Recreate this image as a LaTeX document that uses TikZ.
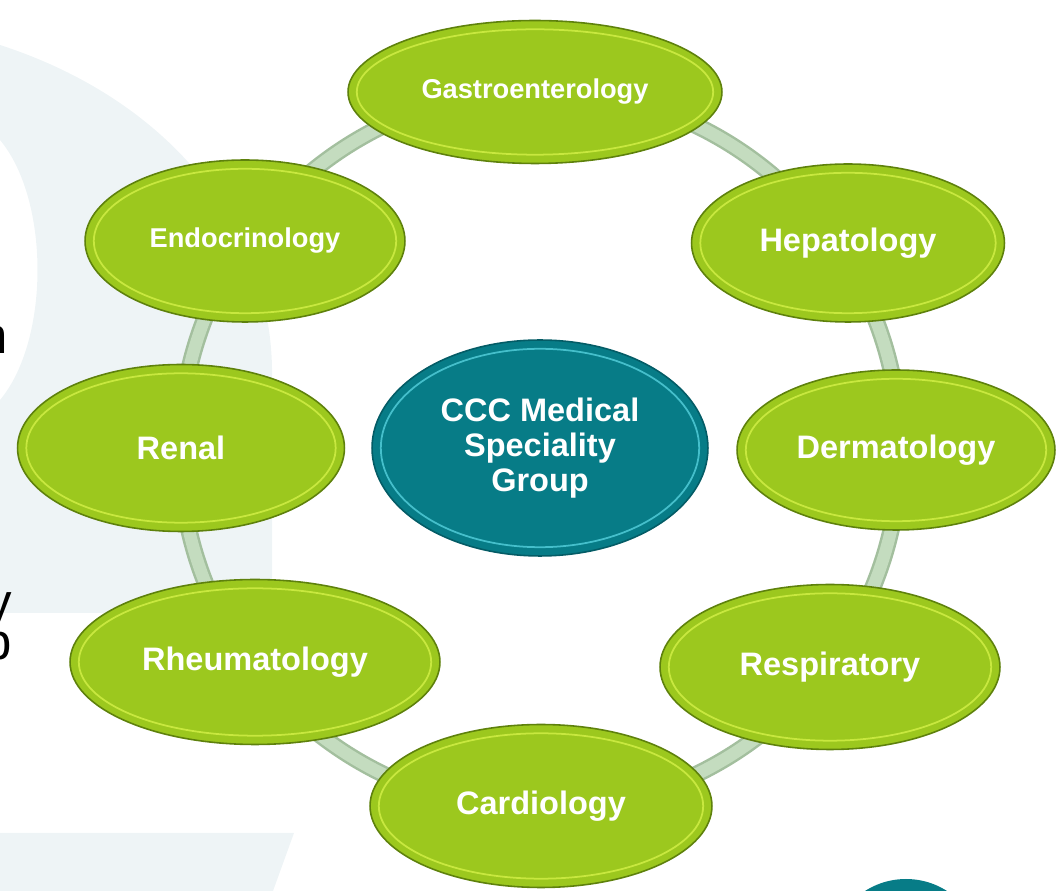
\documentclass[tikz,border=0pt]{standalone}
\usepackage{fontspec}
\setmainfont{Liberation Sans}
\usetikzlibrary{shapes.geometric,calc}

\definecolor{leaf}{HTML}{9CC81E}
\definecolor{leafedge}{HTML}{5E810C}
\definecolor{leaflight}{HTML}{C8E83F}
\definecolor{tealface}{HTML}{077C87}
\definecolor{tealedge}{HTML}{045C66}
\definecolor{teallight}{HTML}{45BFCB}
\definecolor{ringfill}{HTML}{C4DCBF}
\definecolor{ringedge}{HTML}{A3BF9E}
\definecolor{backdrop}{HTML}{EEF4F6}

% light rim just inside each ellipse
\tikzset{bevel/.style={path picture={
  \draw[#1, line width=1pt]
    let \p1=(path picture bounding box.south west), \p2=(path picture bounding box.north east)
    in ($(\p1)!.5!(\p2)$) ellipse [x radius={0.5*(\x2-\x1)-5pt}, y radius={0.5*(\y2-\y1)-5pt}];
}}}

\begin{document}
\begin{tikzpicture}[x=0.02cm, y=-0.02cm,
    main node/.style={ellipse, draw=leafedge, line width=0.9pt, fill=leaf, text=white, inner sep=0pt, bevel=leaflight},
    hub node/.style={main node, draw=tealedge, fill=tealface, bevel=teallight, align=center},
    big text/.style={font=\fontsize{18.5}{19.8}\selectfont\bfseries},
    small text/.style={font=\fontsize{15.5}{18}\selectfont\bfseries},
    ring/.style={draw=ringedge, line width=1.4pt, double=ringfill, double distance=7pt}]
        \tikzstyle{every node}=[font=\bfseries]
        \useasboundingbox (0,0) rectangle (1056,891);

        % backdrop of the slide
        \fill[backdrop] (0,45) .. controls (170,100) and (275,230) .. (272,380) -- (272,613) -- (0,613)
          -- (0,400) .. controls (50,340) and (50,200) .. (0,140) -- cycle;
        \fill[backdrop] (0,833) -- (294,833) -- (273,891) -- (0,891) -- cycle;
        \fill[tealface] (906,955) circle [radius=76];

        % text running off the left edge
        \node[font=\fontsize{29}{33}\selectfont, anchor=base east] (t1) at (14,354) {n};
        \node[font=\fontsize{29}{33}\selectfont, anchor=base east] (t2) at (18,620) {y};
        \node[font=\fontsize{29}{33}\selectfont, anchor=base east] (t3) at (18,660) {b};

        % ring behind the specialities
        \coordinate (hub) at (540,450);
        \draw[ring] (hub) circle [radius=360];

          \node[hub node, big text, minimum width=6.72cm, minimum height=4.32cm] (0) at (540,448) {CCC Medical\\Speciality\\Group};
          \node[main node, small text, minimum width=7.48cm, minimum height=2.86cm] (1) at (535,92) {Gastroenterology};
          \node[main node, big text, minimum width=6.26cm, minimum height=3.16cm] (2) at (848,243) {Hepatology};
          \node[main node, big text, minimum width=6.36cm, minimum height=3.2cm] (3) at (896,450) {Dermatology};
          \node[main node, big text, minimum width=6.8cm, minimum height=3.3cm] (4) at (830,667) {Respiratory};
          \node[main node, big text, minimum width=6.84cm, minimum height=3.26cm] (5) at (541,806) {Cardiology};
          \node[main node, big text, minimum width=7.4cm, minimum height=3.3cm] (6) at (255,662) {Rheumatology};
          \node[main node, big text, minimum width=6.54cm, minimum height=3.34cm] (7) at (181,448) {Renal};
          \node[main node, small text, minimum width=6.4cm, minimum height=3.24cm] (8) at (245,241) {Endocrinology};

        \end{tikzpicture}
\end{document}
